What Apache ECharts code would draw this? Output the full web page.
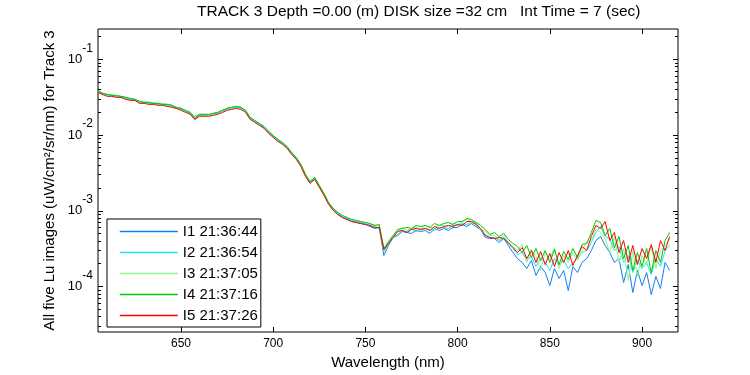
<!DOCTYPE html>
<html>
<head>
<meta charset="utf-8">
<script src="https://cdn.jsdelivr.net/npm/echarts@6.0.0/dist/echarts.min.js"></script>
<style>
  html, body { margin: 0; padding: 0; background: #fff; }
  #chart { width: 750px; height: 375px; }
</style>
</head>
<body>
<div id="chart"></div>
<script>
var wavelength = [
  605, 607.5, 610, 612.5, 615, 617.5, 620, 622.5, 625, 627.5,
  630, 632.5, 635, 637.5, 640, 642.5, 645, 647.5, 650, 652.5,
  655, 657.5, 660, 662.5, 665, 667.5, 670, 672.5, 675, 677.5,
  680, 682.5, 685, 687.5, 690, 692.5, 695, 697.5, 700, 702.5,
  705, 707.5, 710, 712.5, 715, 717.5, 720, 722.5, 725, 727.5,
  730, 732.5, 735, 737.5, 740, 742.5, 745, 747.5, 750, 752.5,
  755, 757.5, 760, 762.5, 765, 767.5, 770, 772.5, 775, 777.5,
  780, 782.5, 785, 787.5, 790, 792.5, 795, 797.5, 800, 802.5,
  805, 807.5, 810, 812.5, 815, 817.5, 820, 822.5, 825, 827.5,
  830, 832.5, 835, 837.5, 840, 842.5, 845, 847.5, 850, 852.5,
  855, 857.5, 860, 862.5, 865, 867.5, 870, 872.5, 875, 877.5,
  880, 882.5, 885, 887.5, 890, 892.5, 895, 897.5, 900, 902.5,
  905, 907.5, 910, 912.5, 915
];

var seriesNames = ['I1 21:36:44', 'I2 21:36:54', 'I3 21:37:05', 'I4 21:37:16', 'I5 21:37:26'];

// I1
var lu1 = [
  0.0377, 0.0355, 0.0344, 0.0334, 0.0324, 0.0324, 0.0314, 0.0296, 0.0296, 0.0278,
  0.0270, 0.0270, 0.0262, 0.0262, 0.0254, 0.0254, 0.0247, 0.0232, 0.0225, 0.0206,
  0.0193, 0.0161, 0.0182, 0.0188, 0.0182, 0.0193, 0.0199, 0.0212, 0.0225, 0.0232,
  0.0239, 0.0232, 0.0212, 0.0166, 0.0152, 0.0138, 0.0126, 0.0109, 0.00960, 0.00850,
  0.00776, 0.00687, 0.00572, 0.00491, 0.00397, 0.00293, 0.00237, 0.00267, 0.00210, 0.00165,
  0.00125, 0.00105, 0.000897, 0.000817, 0.000769, 0.000723, 0.000701, 0.000680, 0.000660, 0.000621,
  0.000584, 0.000602, 0.000257, 0.000348, 0.000444, 0.000472, 0.000533, 0.000517, 0.000502, 0.000550,
  0.000533, 0.000550, 0.000502, 0.000584, 0.000550, 0.000584, 0.000550, 0.000602, 0.000602, 0.000660,
  0.000621, 0.000680, 0.000621, 0.000567, 0.000444, 0.000431, 0.000431, 0.000381, 0.000431, 0.000348,
  0.000281, 0.000234, 0.000208, 0.000173, 0.000221, 0.000140, 0.000184, 0.000153, 0.000103, 0.000173,
  0.000128, 0.000163, 0.0000885, 0.000184, 0.000153, 0.000208, 0.000234, 0.000299, 0.000405, 0.000458,
  0.000348, 0.000281, 0.000208, 0.000234, 0.000113, 0.000195, 0.0000833, 0.000163, 0.000103, 0.000153,
  0.0000784, 0.000136, 0.0000942, 0.000208, 0.000163
];
// I2
var lu2 = [
  0.0377, 0.0344, 0.0334, 0.0334, 0.0324, 0.0314, 0.0305, 0.0296, 0.0287, 0.0270,
  0.0270, 0.0262, 0.0262, 0.0254, 0.0254, 0.0247, 0.0239, 0.0225, 0.0218, 0.0206,
  0.0193, 0.0166, 0.0182, 0.0182, 0.0182, 0.0188, 0.0193, 0.0206, 0.0218, 0.0225,
  0.0232, 0.0225, 0.0206, 0.0166, 0.0152, 0.0138, 0.0126, 0.0109, 0.00960, 0.00850,
  0.00776, 0.00687, 0.00572, 0.00491, 0.00397, 0.00293, 0.00237, 0.00267, 0.00210, 0.00165,
  0.00125, 0.00105, 0.000925, 0.000843, 0.000793, 0.000745, 0.000723, 0.000701, 0.000680, 0.000640,
  0.000621, 0.000584, 0.000290, 0.000370, 0.000444, 0.000487, 0.000550, 0.000533, 0.000567, 0.000533,
  0.000567, 0.000584, 0.000567, 0.000550, 0.000602, 0.000602, 0.000584, 0.000640, 0.000640, 0.000680,
  0.000660, 0.000701, 0.000680, 0.000550, 0.000487, 0.000444, 0.000444, 0.000405, 0.000444, 0.000370,
  0.000318, 0.000265, 0.000281, 0.000221, 0.000249, 0.000184, 0.000234, 0.000208, 0.000163, 0.000234,
  0.000190, 0.000221, 0.000173, 0.000208, 0.000234, 0.000281, 0.000299, 0.000381, 0.000517, 0.000621,
  0.000458, 0.000431, 0.000299, 0.000338, 0.000208, 0.000257, 0.000153, 0.000221, 0.000173, 0.000208,
  0.000144, 0.000234, 0.000184, 0.000299, 0.000348
];
// I3
var lu3 = [
  0.0389, 0.0355, 0.0334, 0.0344, 0.0334, 0.0324, 0.0314, 0.0305, 0.0296, 0.0278,
  0.0278, 0.0270, 0.0270, 0.0262, 0.0262, 0.0254, 0.0247, 0.0232, 0.0225, 0.0212,
  0.0199, 0.0177, 0.0188, 0.0188, 0.0182, 0.0193, 0.0199, 0.0212, 0.0225, 0.0232,
  0.0239, 0.0232, 0.0212, 0.0171, 0.0156, 0.0143, 0.0130, 0.0112, 0.00990, 0.00877,
  0.00800, 0.00708, 0.00590, 0.00507, 0.00409, 0.00302, 0.00244, 0.00276, 0.00216, 0.00170,
  0.00129, 0.00108, 0.000954, 0.000868, 0.000817, 0.000769, 0.000745, 0.000723, 0.000701, 0.000660,
  0.000660, 0.000621, 0.000299, 0.000393, 0.000458, 0.000533, 0.000602, 0.000550, 0.000584, 0.000602,
  0.000584, 0.000640, 0.000602, 0.000602, 0.000640, 0.000640, 0.000602, 0.000680, 0.000660, 0.000701,
  0.000769, 0.000723, 0.000701, 0.000567, 0.000533, 0.000472, 0.000472, 0.000418, 0.000472, 0.000381,
  0.000338, 0.000299, 0.000359, 0.000208, 0.000308, 0.000249, 0.000163, 0.000281, 0.000234, 0.000327,
  0.000173, 0.000257, 0.000208, 0.000281, 0.000221, 0.000299, 0.000381, 0.000405, 0.000567, 0.000517,
  0.000431, 0.000281, 0.000458, 0.000208, 0.000318, 0.000120, 0.000299, 0.000136, 0.000257, 0.000195,
  0.000338, 0.000173, 0.000299, 0.000348, 0.000431
];
// I4
var lu4 = [
  0.0389, 0.0355, 0.0344, 0.0334, 0.0334, 0.0324, 0.0314, 0.0305, 0.0296, 0.0278,
  0.0270, 0.0270, 0.0262, 0.0262, 0.0254, 0.0254, 0.0247, 0.0232, 0.0225, 0.0212,
  0.0199, 0.0171, 0.0188, 0.0188, 0.0188, 0.0193, 0.0199, 0.0212, 0.0225, 0.0232,
  0.0239, 0.0232, 0.0212, 0.0171, 0.0156, 0.0143, 0.0130, 0.0112, 0.00990, 0.00877,
  0.00800, 0.00708, 0.00590, 0.00507, 0.00409, 0.00302, 0.00244, 0.00276, 0.00216, 0.00170,
  0.00129, 0.00108, 0.000954, 0.000868, 0.000817, 0.000769, 0.000745, 0.000723, 0.000701, 0.000680,
  0.000640, 0.000660, 0.000318, 0.000393, 0.000472, 0.000567, 0.000584, 0.000602, 0.000584, 0.000640,
  0.000621, 0.000640, 0.000602, 0.000680, 0.000640, 0.000680, 0.000701, 0.000660, 0.000723, 0.000723,
  0.000793, 0.000769, 0.000701, 0.000640, 0.000567, 0.000487, 0.000517, 0.000458, 0.000502, 0.000418,
  0.000370, 0.000338, 0.000281, 0.000348, 0.000242, 0.000318, 0.000221, 0.000299, 0.000208, 0.000308,
  0.000195, 0.000290, 0.000227, 0.000318, 0.000242, 0.000359, 0.000370, 0.000517, 0.000745, 0.000701,
  0.000472, 0.000584, 0.000327, 0.000458, 0.000234, 0.000348, 0.000163, 0.000281, 0.000184, 0.000318,
  0.000153, 0.000299, 0.000208, 0.000405, 0.000517
];
// I5
var lu5 = [
  0.0366, 0.0344, 0.0324, 0.0324, 0.0314, 0.0314, 0.0296, 0.0287, 0.0287, 0.0262,
  0.0262, 0.0254, 0.0254, 0.0247, 0.0247, 0.0239, 0.0232, 0.0225, 0.0212, 0.0199,
  0.0188, 0.0161, 0.0177, 0.0177, 0.0177, 0.0182, 0.0188, 0.0199, 0.0212, 0.0218,
  0.0225, 0.0218, 0.0199, 0.0161, 0.0147, 0.0134, 0.0123, 0.0105, 0.00932, 0.00825,
  0.00753, 0.00667, 0.00555, 0.00477, 0.00385, 0.00284, 0.00230, 0.00259, 0.00204, 0.00160,
  0.00122, 0.00101, 0.000897, 0.000817, 0.000769, 0.000723, 0.000701, 0.000680, 0.000660, 0.000640,
  0.000602, 0.000602, 0.000308, 0.000370, 0.000444, 0.000533, 0.000550, 0.000517, 0.000567, 0.000584,
  0.000567, 0.000584, 0.000550, 0.000621, 0.000584, 0.000621, 0.000640, 0.000621, 0.000660, 0.000640,
  0.000723, 0.000723, 0.000660, 0.000584, 0.000472, 0.000444, 0.000431, 0.000444, 0.000431, 0.000381,
  0.000327, 0.000281, 0.000327, 0.000234, 0.000299, 0.000208, 0.000290, 0.000195, 0.000273, 0.000184,
  0.000281, 0.000208, 0.000299, 0.000190, 0.000257, 0.000338, 0.000299, 0.000458, 0.000640, 0.000584,
  0.000723, 0.000405, 0.000517, 0.000281, 0.000405, 0.000208, 0.000348, 0.000195, 0.000318, 0.000234,
  0.000359, 0.000208, 0.000405, 0.000299, 0.000458
];

var xTicks = [650, 700, 750, 800, 850, 900];
var yMajorTicks = [0.0001, 0.001, 0.01, 0.1];
var yMinorTicks = [
  0.00003, 0.00004, 0.00005, 0.00006, 0.00007, 0.00008, 0.00009,
  0.0002, 0.0003, 0.0004, 0.0005, 0.0006, 0.0007, 0.0008, 0.0009,
  0.002, 0.003, 0.004, 0.005, 0.006, 0.007, 0.008, 0.009,
  0.02, 0.03, 0.04, 0.05, 0.06, 0.07, 0.08, 0.09,
  0.2
];

var fontFamily = '"Liberation Sans", Arial, sans-serif';
var lineColors = ['#0f80f0', '#1fe6ee', '#8ff58f', '#00c800', '#ff0000'];
var xMin = 605, xMax = 919.5;
var yMin = 0.00002512, yMax = 0.2512;

var chart = echarts.init(document.getElementById('chart'), null, {renderer: 'canvas'});

function xAxisOpt(pos, withLabel) {
  return {
    type: 'value',
    gridIndex: 0,
    position: pos,
    min: xMin,
    max: xMax,
    axisLine: {show: false},
    splitLine: {show: false},
    axisTick: {show: true, inside: true, length: 5, customValues: xTicks, lineStyle: {color: '#000', width: 1}},
    axisLabel: {
      show: withLabel,
      customValues: xTicks,
      margin: 6,
      color: '#000',
      fontSize: 12,
      fontFamily: fontFamily
    },
    name: withLabel ? 'Wavelength (nm)' : '',
    nameLocation: 'middle',
    nameGap: 22,
    nameTextStyle: {color: '#000', fontSize: 15, fontFamily: fontFamily}
  };
}

function yAxisOpt(pos, ticks, len, withLabel) {
  return {
    type: 'log',
    logBase: 10,
    gridIndex: 0,
    position: pos,
    min: yMin,
    max: yMax,
    axisLine: {show: false},
    splitLine: {show: false},
    axisTick: {show: true, inside: true, length: len, customValues: ticks, lineStyle: {color: '#000', width: 1}},
    axisLabel: {
      show: withLabel,
      customValues: ticks,
      margin: 5,
      formatter: function (v) {
        return '{b|10}{e|' + Math.round(Math.log(v) / Math.LN10) + '}';
      },
      rich: {
        b: {fontSize: 13, lineHeight: 36, color: '#000', fontFamily: fontFamily},
        e: {fontSize: 12, lineHeight: 14, padding: [0, 0, 22, 0], color: '#000', fontFamily: fontFamily}
      }
    },
    name: withLabel ? 'All five Lu images (uW/cm\u00b2/sr/nm) for Track 3' : '',
    nameLocation: 'middle',
    nameGap: 40,
    nameTextStyle: {color: '#000', fontSize: 15, fontFamily: fontFamily}
  };
}

var allLu = [lu1, lu2, lu3, lu4, lu5];
var series = allLu.map(function (vals, k) {
  return {
    name: seriesNames[k],
    type: 'line',
    xAxisIndex: 0,
    yAxisIndex: 0,
    symbol: 'none',
    showSymbol: false,
    clip: true,
    lineStyle: {color: lineColors[k], width: 1},
    itemStyle: {color: lineColors[k]},
    emphasis: {disabled: true},
    data: wavelength.map(function (w, i) { return [w, vals[i]]; })
  };
});

chart.setOption({
  animation: false,
  backgroundColor: '#fff',
  title: {
    text: 'TRACK 3 Depth =0.00 (m) DISK size =32 cm   Int Time = 7 (sec)',
    left: 197,
    top: 4,
    padding: 0,
    textStyle: {color: '#000', fontSize: 15.5, fontWeight: 'normal', fontFamily: fontFamily}
  },
  legend: {
    orient: 'vertical',
    left: 107,
    top: 219,
    padding: [5, 3, 4, 12],
    itemWidth: 58,
    itemHeight: 14,
    itemGap: 6,
    borderColor: '#000',
    borderWidth: 1,
    backgroundColor: '#fff',
    selectedMode: false,
    itemStyle: {opacity: 0},
    lineStyle: {width: 1.5},
    data: seriesNames,
    textStyle: {color: '#000', fontSize: 15, fontFamily: fontFamily}
  },
  grid: {
    left: 98,
    right: 72,
    top: 29,
    bottom: 43,
    show: true,
    borderColor: '#000',
    borderWidth: 1,
    backgroundColor: 'transparent',
    outerBoundsMode: 'none'
  },
  xAxis: [xAxisOpt('bottom', true), xAxisOpt('top', false)],
  yAxis: [
    yAxisOpt('left', yMajorTicks, 5, true),
    yAxisOpt('left', yMinorTicks, 3, false),
    yAxisOpt('right', yMajorTicks, 5, false),
    yAxisOpt('right', yMinorTicks, 3, false)
  ],
  series: series
});
</script>
</body>
</html>
